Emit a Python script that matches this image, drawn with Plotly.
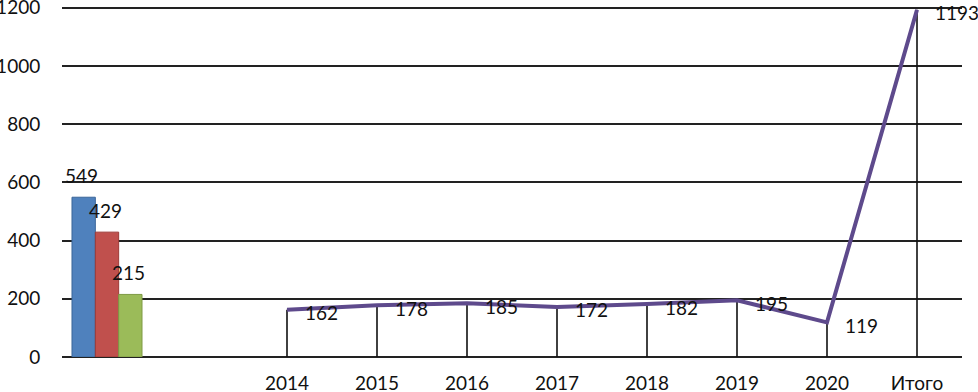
import plotly.graph_objects as go

# Data
bar_values = [549, 429, 215]
bar_colors = ["#4F81BD", "#C0504D", "#9BBB59"]
bar_edges = ["#3B6699", "#9C3A37", "#7E9A45"]
years = ["2014", "2015", "2016", "2017", "2018", "2019", "2020", "Итого"]
line_values = [162, 178, 185, 172, 182, 195, 119, 1193]
y_ticks = [0, 200, 400, 600, 800, 1000, 1200]

FONT = "Lato"
FS = 19
fig = go.Figure()

bar_x = 0
line_x = list(range(2, 2 + len(years)))

for v, c, e in zip(bar_values, bar_colors, bar_edges):
    fig.add_trace(go.Bar(x=[bar_x], y=[v], marker=dict(color=c, line=dict(color=e, width=1)),
                         showlegend=False))

fig.add_trace(go.Scatter(
    x=line_x, y=line_values, mode="lines",
    line=dict(color="#5E4A8C", width=4),
    error_y=dict(type="data", symmetric=False, array=[0] * len(line_values),
                 arrayminus=line_values, width=0, thickness=1.6, color="#111111"),
    showlegend=False, cliponaxis=False,
))

# bar labels
offsets = [-0.26, 0.0, 0.26]
for v, o in zip(bar_values, offsets):
    fig.add_annotation(x=bar_x + o, y=v, text=str(v), showarrow=False,
                       yanchor="bottom", yshift=8, xshift=-2,
                       font=dict(family=FONT, size=FS, color="#111"))
# line labels
for x, v in zip(line_x, line_values):
    fig.add_annotation(x=x, y=v, text=str(v), showarrow=False,
                       xanchor="left", yanchor="middle", xshift=16, yshift=-3,
                       font=dict(family=FONT, size=FS, color="#111"))

fig.update_layout(
    width=978, height=392,
    margin=dict(l=62, r=16, t=6, b=35, pad=0, autoexpand=False),
    paper_bgcolor="white", plot_bgcolor="white",
    barmode="group", bargap=0.222, bargroupgap=0,
    font=dict(family=FONT, size=FS, color="#111"),
    xaxis=dict(range=[-0.5, 9.5], tickmode="array", tickvals=line_x, ticktext=years,
               showgrid=False, zeroline=False, showline=False, automargin=False,
               ticklabeloverflow="allow",
               ticks="outside", ticklen=9, tickcolor="rgba(0,0,0,0)"),
    yaxis=dict(range=[0, 1206], tickmode="array", tickvals=y_ticks,
               showgrid=True, gridcolor="#222", automargin=False,
               ticklabeloverflow="allow",
               gridwidth=1.6, zeroline=True, zerolinecolor="#222", zerolinewidth=1.6,
               showline=False, ticks="outside", ticklen=17, tickcolor="rgba(0,0,0,0)"),
)

fig.write_html("out.html", config={"displayModeBar": False},
               post_script="document.body.style.margin='0';document.body.style.overflow='hidden';")
